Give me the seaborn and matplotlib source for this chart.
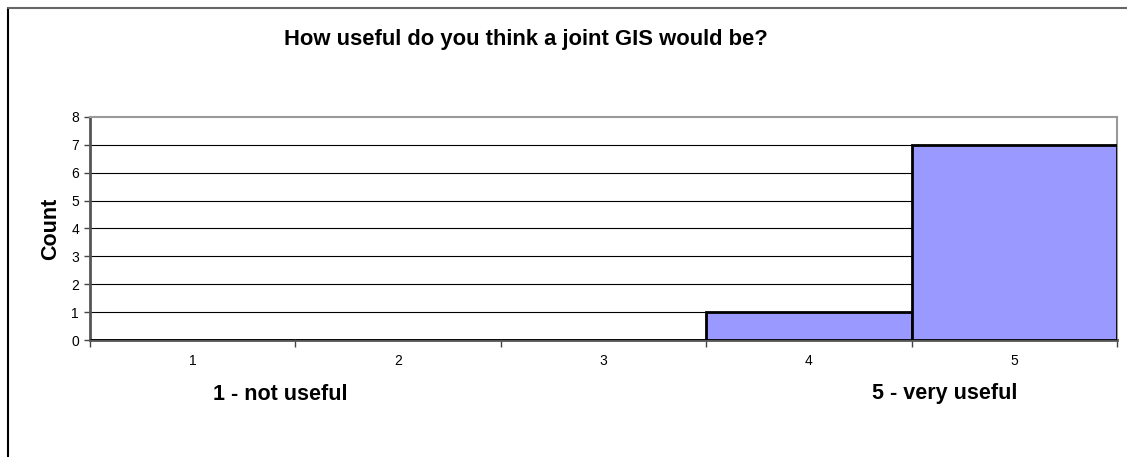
import matplotlib
matplotlib.use("Agg")
import matplotlib.pyplot as plt
import seaborn as sns
import pandas as pd
from matplotlib.lines import Line2D

# survey answers: rating -> count
ratings = ["1", "2", "3", "4", "5"]
counts = [0, 0, 0, 1, 7]
y_ticks = [0, 1, 2, 3, 4, 5, 6, 7, 8]

df = pd.DataFrame({"rating": ratings, "count": counts})

sns.set_style("white")
plt.rcParams["font.family"] = ["Liberation Sans", "DejaVu Sans"]
plt.rcParams["text.color"] = "black"
plt.rcParams["xtick.color"] = "black"
plt.rcParams["ytick.color"] = "black"
plt.rcParams["axes.labelcolor"] = "black"

fig = plt.figure(figsize=(11.27, 4.57), dpi=100)
ax = fig.add_axes([90 / 1127, 1 - 340 / 457, (1117 - 90) / 1127, (340 - 117) / 457])

sns.barplot(data=df, x="rating", y="count", color="#9999FF", width=1.0,
            edgecolor="black", linewidth=2, saturation=1, ax=ax, zorder=3)

ax.set_ylim(0, 8)
ax.set_xlim(-0.5, len(ratings) - 0.5)
ax.set_yticks(y_ticks)
ax.set_yticklabels([str(t) for t in y_ticks], fontsize=10)
ax.set_xticklabels(ratings, fontsize=10)
ax.set_xticks([i - 0.5 for i in range(len(ratings) + 1)], minor=True)

for t in y_ticks[1:-1]:
    ax.axhline(t, color="black", linewidth=0.8, zorder=1)

ax.tick_params(axis="x", which="major", length=0, pad=10, labelcolor="black")
ax.tick_params(axis="x", which="minor", length=5, width=1, color="#444444", direction="out", bottom=True)
ax.tick_params(axis="y", length=4, width=1, color="#444444", direction="out", left=True, pad=4,
               labelcolor="black")

for side in ["left", "bottom"]:
    ax.spines[side].set_color("#555555")
    ax.spines[side].set_linewidth(2)
for side in ["top", "right"]:
    ax.spines[side].set_color("#999999")
    ax.spines[side].set_linewidth(1.5)

ax.set_xlabel("")
ax.set_ylabel("Count", fontsize=15.5, fontweight="bold", labelpad=7, color="black")

fig.text(526 / 1127, 1 - 40 / 457, "How useful do you think a joint GIS would be?",
         ha="center", va="center", fontsize=15.8, fontweight="bold", color="black")
fig.text(280 / 1127, 1 - 394 / 457, "1 - not useful", ha="center", va="center",
         fontsize=15.5, fontweight="bold", color="black")
fig.text(945 / 1127, 1 - 394 / 457, "5 - very useful", ha="center", va="center",
         fontsize=15.5, fontweight="bold", color="black")

# chart area frame (only left and top edges visible)
fig.add_artist(Line2D([7.5 / 1127, 7.5 / 1127], [0, 1 - 7.5 / 457],
                      transform=fig.transFigure, color="black", linewidth=1.5))
fig.add_artist(Line2D([7.5 / 1127, 1], [1 - 7.5 / 457, 1 - 7.5 / 457],
                      transform=fig.transFigure, color="#666666", linewidth=1.5))

fig.savefig("out.png", dpi=100)
